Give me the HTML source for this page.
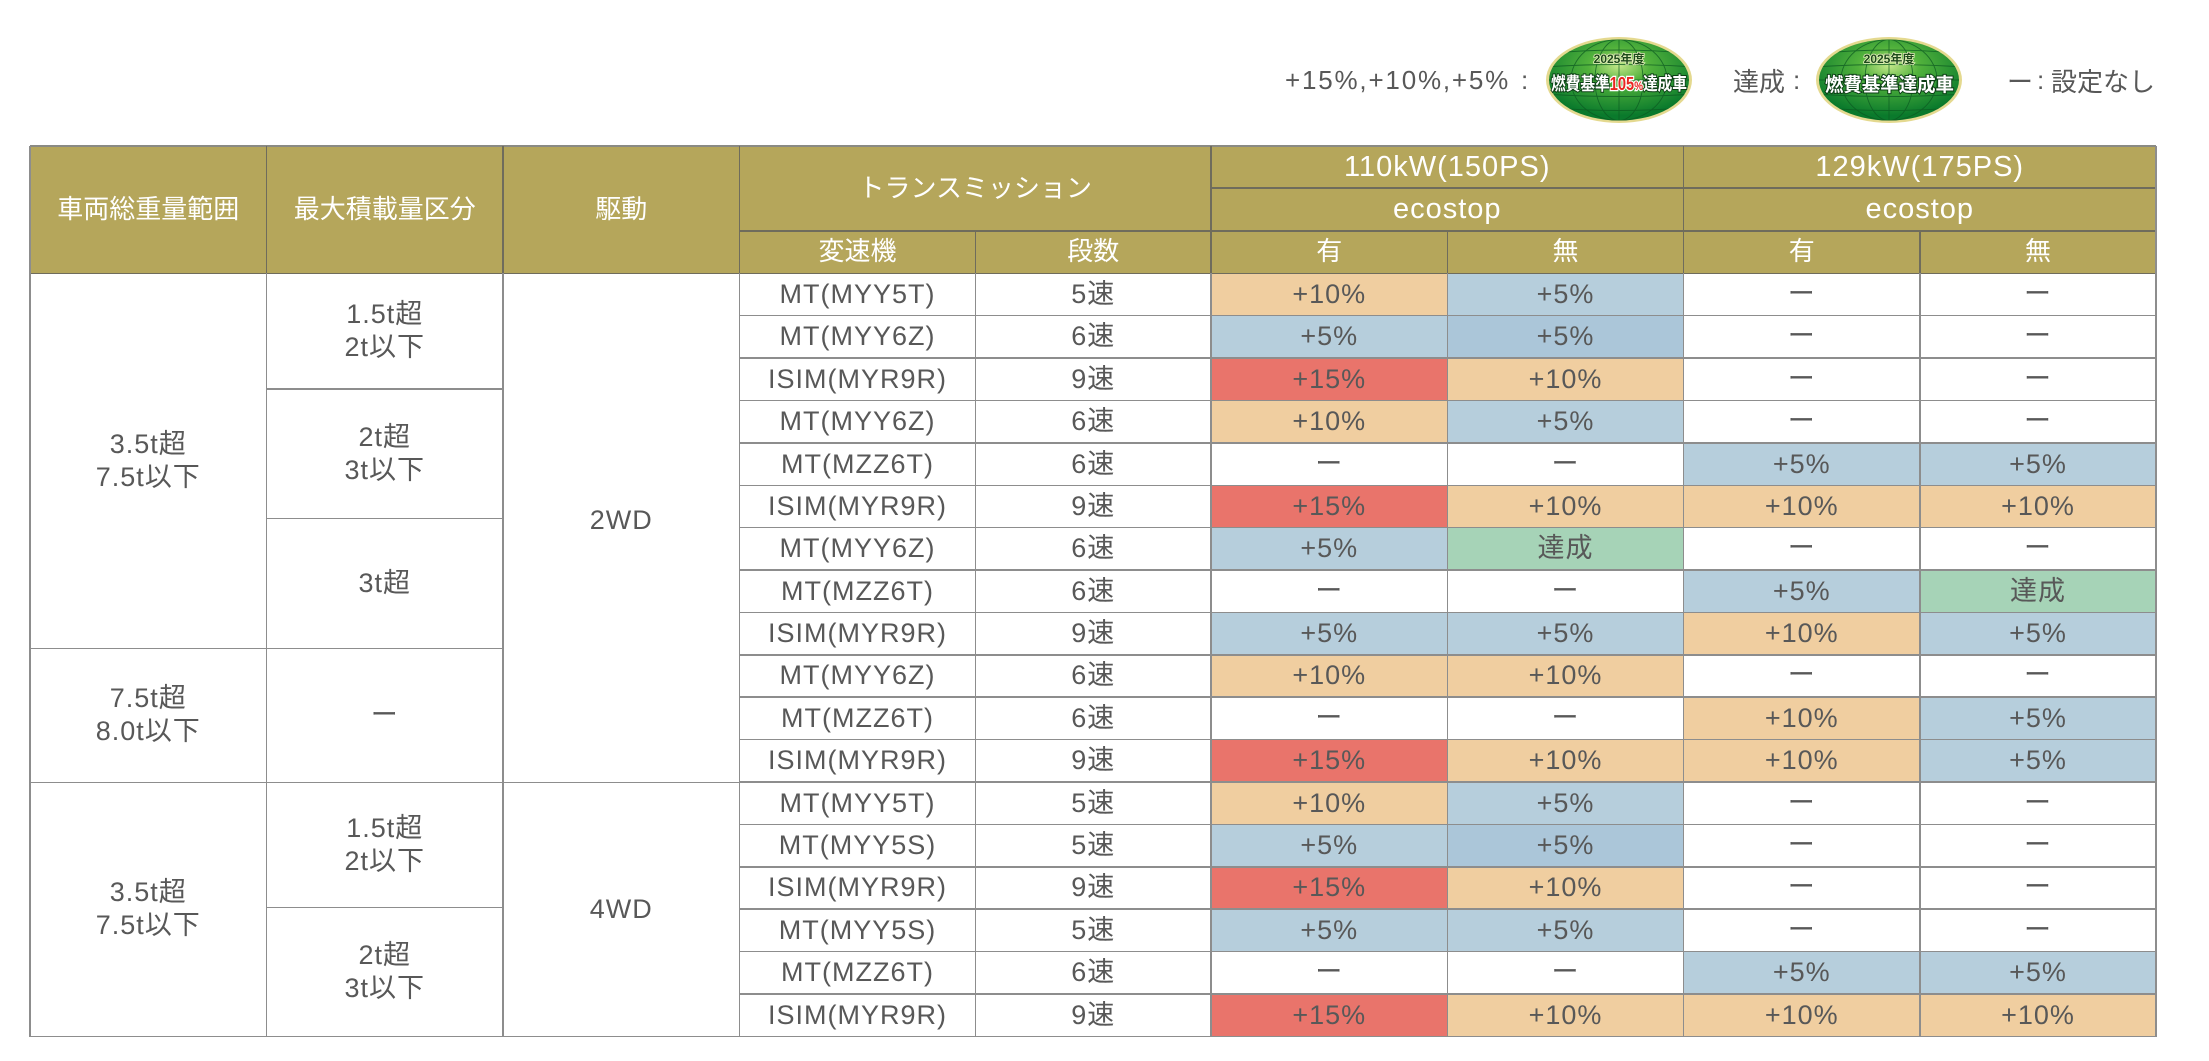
<!DOCTYPE html>
<html><head><meta charset="utf-8">
<style>
html,body{margin:0;padding:0}
body{width:2209px;height:1061px;background:#fff;position:relative;overflow:hidden;font-family:"Liberation Sans","Noto Sans CJK JP",sans-serif}
.c{position:absolute;display:flex;align-items:center;justify-content:center;text-align:center;color:#585858;font-size:27px;letter-spacing:1px;line-height:33px;white-space:nowrap}
.h{color:#fff;font-size:26px;letter-spacing:0}
.hl{position:absolute;height:1.5px;background:#8d8d8d}
.vl{position:absolute;width:1.5px;background:#8d8d8d}
.dk{background:#6f6c5c}
.k4{left:739.5px;width:236px}.k5{left:975.5px;width:235.5px}.k6{left:1211px;width:236.5px}
.k7{left:1447.5px;width:236px}.k8{left:1683.5px;width:236.5px}.k9{left:1920px;width:236px}
.r0{top:273.3px}.r1{top:315.69px}.r2{top:358.08px}.r3{top:400.47px}.r4{top:442.86px}.r5{top:485.25px}
.r6{top:527.64px}.r7{top:570.03px}.r8{top:612.42px}.r9{top:654.81px}.r10{top:697.2px}.r11{top:739.59px}
.r12{top:781.98px}.r13{top:824.37px}.r14{top:866.76px}.r15{top:909.15px}.r16{top:951.54px}.r17{top:993.93px}
.r0,.r1,.r2,.r3,.r4,.r5,.r6,.r7,.r8,.r9,.r10,.r11,.r12,.r13,.r14,.r15,.r16,.r17{height:42.39px}
.o{background:#F0CEA0}.b{background:#B6CEDC}.b2{background:#ABC6D9}.r{background:#E9746B}.g{background:#A6D3B7}
.lg{position:absolute;top:60px;height:40px;display:flex;align-items:center;color:#585858;font-size:26px;white-space:nowrap}
</style></head><body>

<!-- legend -->
<div class="lg" style="left:1285px;letter-spacing:1.8px">+15%,+10%,+5%</div>
<div class="lg" style="left:1521px">:</div>
<svg style="position:absolute;left:1543px;top:34px" width="152" height="92" viewBox="0 0 152 92">
<defs>
<radialGradient id="gA" cx="0.5" cy="0.32" r="0.62"><stop offset="0" stop-color="#c4e88a"/><stop offset="0.35" stop-color="#52b23c"/><stop offset="1" stop-color="#0a7a2c"/></radialGradient>
<clipPath id="cA"><ellipse cx="76" cy="46" rx="70" ry="40.5"/></clipPath>
</defs>
<ellipse cx="76" cy="46" rx="73" ry="43" fill="#e4d98f"/>
<ellipse cx="76" cy="46" rx="70" ry="40.5" fill="url(#gA)"/>
<g clip-path="url(#cA)" fill="none" stroke="#0d5a22" stroke-width="0.9" opacity="0.75">
<line x1="76" y1="0" x2="76" y2="92"/>
<ellipse cx="76" cy="46" rx="24" ry="40.5"/><ellipse cx="76" cy="46" rx="48" ry="40.5"/>
<path d="M0 20 Q76 12 152 20"/><path d="M0 33 Q76 28 152 33"/><line x1="0" y1="46" x2="152" y2="46"/>
<path d="M0 60 Q76 65 152 60"/><path d="M0 73 Q76 80 152 73"/>
</g>
<text x="76" y="29" text-anchor="middle" font-family="Liberation Sans,Noto Sans CJK JP,sans-serif" font-weight="bold" font-size="12" fill="#1d4a1b" stroke="#e8f0c0" stroke-width="1.5" paint-order="stroke">2025年度</text>
<text x="8" y="56" textLength="136" lengthAdjust="spacingAndGlyphs" font-family="Liberation Sans,Noto Sans CJK JP,sans-serif" font-weight="bold" font-size="18" fill="#fff" stroke="#0b3d14" stroke-width="2" paint-order="stroke">燃費基準<tspan fill="#e8261f" stroke="#fff" stroke-width="2.5">105</tspan><tspan fill="#e8261f" stroke="#fff" stroke-width="2.5" font-size="12">%</tspan>達成車</text>
</svg>

<div class="lg" style="left:1733px">達成</div>
<div class="lg" style="left:1793px">:</div>
<svg style="position:absolute;left:1813px;top:34px" width="152" height="92" viewBox="0 0 152 92">
<defs>
<radialGradient id="gB" cx="0.5" cy="0.32" r="0.62"><stop offset="0" stop-color="#c4e88a"/><stop offset="0.35" stop-color="#52b23c"/><stop offset="1" stop-color="#0a7a2c"/></radialGradient>
<clipPath id="cB"><ellipse cx="76" cy="46" rx="70" ry="40.5"/></clipPath>
</defs>
<ellipse cx="76" cy="46" rx="73" ry="43" fill="#e4d98f"/>
<ellipse cx="76" cy="46" rx="70" ry="40.5" fill="url(#gB)"/>
<g clip-path="url(#cB)" fill="none" stroke="#0d5a22" stroke-width="0.9" opacity="0.75">
<line x1="76" y1="0" x2="76" y2="92"/>
<ellipse cx="76" cy="46" rx="24" ry="40.5"/><ellipse cx="76" cy="46" rx="48" ry="40.5"/>
<path d="M0 20 Q76 12 152 20"/><path d="M0 33 Q76 28 152 33"/><line x1="0" y1="46" x2="152" y2="46"/>
<path d="M0 60 Q76 65 152 60"/><path d="M0 73 Q76 80 152 73"/>
</g>
<text x="76" y="29" text-anchor="middle" font-family="Liberation Sans,Noto Sans CJK JP,sans-serif" font-weight="bold" font-size="12" fill="#1d4a1b" stroke="#e8f0c0" stroke-width="1.5" paint-order="stroke">2025年度</text>
<text x="12" y="57" textLength="129" lengthAdjust="spacingAndGlyphs" font-family="Liberation Sans,Noto Sans CJK JP,sans-serif" font-weight="bold" font-size="19" fill="#fff" stroke="#0b3d14" stroke-width="2" paint-order="stroke">燃費基準達成車</text>
</svg>

<div class="lg" style="left:2007px">ー</div>
<div class="lg" style="left:2037px">:</div>
<div class="lg" style="left:2051px">設定なし</div>

<!-- header background -->
<div style="position:absolute;left:30px;top:146px;width:2126px;height:127.3px;background:#B5A65B"></div>

<!-- header text -->
<div class="c h" style="left:30px;width:236.5px;top:146px;height:127.3px">車両総重量範囲</div>
<div class="c h" style="left:266.5px;width:236.5px;top:146px;height:127.3px">最大積載量区分</div>
<div class="c h" style="left:503px;width:236.5px;top:146px;height:127.3px">駆動</div>
<div class="c h" style="left:739.5px;width:471.5px;top:146px;height:84.7px">トランスミッション</div>
<div class="c h" style="left:739.5px;width:236px;top:230.7px;height:42.6px">変速機</div>
<div class="c h" style="left:975.5px;width:235.5px;top:230.7px;height:42.6px">段数</div>
<div class="c h" style="left:1211px;width:472.5px;top:146px;height:42px;font-size:29px;letter-spacing:1px">110kW(150PS)</div>
<div class="c h" style="left:1211px;width:472.5px;top:188px;height:42.7px;font-size:29px;letter-spacing:1px">ecostop</div>
<div class="c h" style="left:1683.5px;width:472.5px;top:146px;height:42px;font-size:29px;letter-spacing:1px">129kW(175PS)</div>
<div class="c h" style="left:1683.5px;width:472.5px;top:188px;height:42.7px;font-size:29px;letter-spacing:1px">ecostop</div>
<div class="c h" style="left:1211px;width:236.5px;top:230.7px;height:42.6px">有</div>
<div class="c h" style="left:1447.5px;width:236px;top:230.7px;height:42.6px">無</div>
<div class="c h" style="left:1683.5px;width:236.5px;top:230.7px;height:42.6px">有</div>
<div class="c h" style="left:1920px;width:236px;top:230.7px;height:42.6px">無</div>

<!-- left blocks -->
<div class="c" style="left:30px;width:236.5px;top:273.3px;height:375px">3.5t超<br>7.5t以下</div>
<div class="c" style="left:266.5px;width:236.5px;top:273.3px;height:115.7px">1.5t超<br>2t以下</div>
<div class="c" style="left:266.5px;width:236.5px;top:389px;height:129.3px">2t超<br>3t以下</div>
<div class="c" style="left:266.5px;width:236.5px;top:518.3px;height:130px">3t超</div>
<div class="c" style="left:30px;width:236.5px;top:648.3px;height:134px">7.5t超<br>8.0t以下</div>
<div class="c" style="left:266.5px;width:236.5px;top:648.3px;height:134px">ー</div>
<div class="c" style="left:503px;width:236.5px;top:273.3px;height:494px">2WD</div>
<div class="c" style="left:30px;width:236.5px;top:782.3px;height:254px">3.5t超<br>7.5t以下</div>
<div class="c" style="left:266.5px;width:236.5px;top:782.3px;height:125px">1.5t超<br>2t以下</div>
<div class="c" style="left:266.5px;width:236.5px;top:907.3px;height:129px">2t超<br>3t以下</div>
<div class="c" style="left:503px;width:236.5px;top:782.3px;height:254px">4WD</div>

<!-- data rows -->
<div class="c k4 r0">MT(MYY5T)</div><div class="c k5 r0">5速</div><div class="c k6 r0 o">+10%</div><div class="c k7 r0 b">+5%</div><div class="c k8 r0">ー</div><div class="c k9 r0">ー</div>
<div class="c k4 r1">MT(MYY6Z)</div><div class="c k5 r1">6速</div><div class="c k6 r1 b">+5%</div><div class="c k7 r1 b2">+5%</div><div class="c k8 r1">ー</div><div class="c k9 r1">ー</div>
<div class="c k4 r2">ISIM(MYR9R)</div><div class="c k5 r2">9速</div><div class="c k6 r2 r">+15%</div><div class="c k7 r2 o">+10%</div><div class="c k8 r2">ー</div><div class="c k9 r2">ー</div>
<div class="c k4 r3">MT(MYY6Z)</div><div class="c k5 r3">6速</div><div class="c k6 r3 o">+10%</div><div class="c k7 r3 b">+5%</div><div class="c k8 r3">ー</div><div class="c k9 r3">ー</div>
<div class="c k4 r4">MT(MZZ6T)</div><div class="c k5 r4">6速</div><div class="c k6 r4">ー</div><div class="c k7 r4">ー</div><div class="c k8 r4 b">+5%</div><div class="c k9 r4 b">+5%</div>
<div class="c k4 r5">ISIM(MYR9R)</div><div class="c k5 r5">9速</div><div class="c k6 r5 r">+15%</div><div class="c k7 r5 o">+10%</div><div class="c k8 r5 o">+10%</div><div class="c k9 r5 o">+10%</div>
<div class="c k4 r6">MT(MYY6Z)</div><div class="c k5 r6">6速</div><div class="c k6 r6 b">+5%</div><div class="c k7 r6 g">達成</div><div class="c k8 r6">ー</div><div class="c k9 r6">ー</div>
<div class="c k4 r7">MT(MZZ6T)</div><div class="c k5 r7">6速</div><div class="c k6 r7">ー</div><div class="c k7 r7">ー</div><div class="c k8 r7 b">+5%</div><div class="c k9 r7 g">達成</div>
<div class="c k4 r8">ISIM(MYR9R)</div><div class="c k5 r8">9速</div><div class="c k6 r8 b">+5%</div><div class="c k7 r8 b">+5%</div><div class="c k8 r8 o">+10%</div><div class="c k9 r8 b">+5%</div>
<div class="c k4 r9">MT(MYY6Z)</div><div class="c k5 r9">6速</div><div class="c k6 r9 o">+10%</div><div class="c k7 r9 o">+10%</div><div class="c k8 r9">ー</div><div class="c k9 r9">ー</div>
<div class="c k4 r10">MT(MZZ6T)</div><div class="c k5 r10">6速</div><div class="c k6 r10">ー</div><div class="c k7 r10">ー</div><div class="c k8 r10 o">+10%</div><div class="c k9 r10 b">+5%</div>
<div class="c k4 r11">ISIM(MYR9R)</div><div class="c k5 r11">9速</div><div class="c k6 r11 r">+15%</div><div class="c k7 r11 o">+10%</div><div class="c k8 r11 o">+10%</div><div class="c k9 r11 b">+5%</div>
<div class="c k4 r12">MT(MYY5T)</div><div class="c k5 r12">5速</div><div class="c k6 r12 o">+10%</div><div class="c k7 r12 b">+5%</div><div class="c k8 r12">ー</div><div class="c k9 r12">ー</div>
<div class="c k4 r13">MT(MYY5S)</div><div class="c k5 r13">5速</div><div class="c k6 r13 b">+5%</div><div class="c k7 r13 b2">+5%</div><div class="c k8 r13">ー</div><div class="c k9 r13">ー</div>
<div class="c k4 r14">ISIM(MYR9R)</div><div class="c k5 r14">9速</div><div class="c k6 r14 r">+15%</div><div class="c k7 r14 o">+10%</div><div class="c k8 r14">ー</div><div class="c k9 r14">ー</div>
<div class="c k4 r15">MT(MYY5S)</div><div class="c k5 r15">5速</div><div class="c k6 r15 b">+5%</div><div class="c k7 r15 b">+5%</div><div class="c k8 r15">ー</div><div class="c k9 r15">ー</div>
<div class="c k4 r16">MT(MZZ6T)</div><div class="c k5 r16">6速</div><div class="c k6 r16">ー</div><div class="c k7 r16">ー</div><div class="c k8 r16 b">+5%</div><div class="c k9 r16 b">+5%</div>
<div class="c k4 r17">ISIM(MYR9R)</div><div class="c k5 r17">9速</div><div class="c k6 r17 r">+15%</div><div class="c k7 r17 o">+10%</div><div class="c k8 r17 o">+10%</div><div class="c k9 r17 o">+10%</div>

<!-- header lines -->
<div class="hl" style="left:30px;width:2126px;top:145.3px;background:#8a8a84"></div>
<div class="hl dk" style="left:1211px;width:945px;top:187.3px"></div>
<div class="hl dk" style="left:739.5px;width:1416.5px;top:230px"></div>
<div class="hl dk" style="left:30px;width:2126px;top:272.6px"></div>
<div class="vl dk" style="left:265.8px;top:146px;height:127.3px"></div>
<div class="vl dk" style="left:502.3px;top:146px;height:127.3px"></div>
<div class="vl dk" style="left:738.8px;top:146px;height:127.3px"></div>
<div class="vl dk" style="left:1210.3px;top:146px;height:127.3px"></div>
<div class="vl dk" style="left:1682.8px;top:146px;height:127.3px"></div>
<div class="vl dk" style="left:974.8px;top:230.7px;height:42.6px"></div>
<div class="vl dk" style="left:1446.8px;top:230.7px;height:42.6px"></div>
<div class="vl dk" style="left:1919.3px;top:230.7px;height:42.6px"></div>

<!-- outer verticals -->
<div class="vl" style="left:29.3px;top:146px;height:891px"></div>
<div class="vl" style="left:2155.3px;top:146px;height:891px"></div>

<!-- data verticals -->
<div class="vl" style="left:265.8px;top:273.3px;height:763px"></div>
<div class="vl" style="left:502.3px;top:273.3px;height:763px"></div>
<div class="vl" style="left:738.8px;top:273.3px;height:763px"></div>
<div class="vl" style="left:974.8px;top:273.3px;height:763px"></div>
<div class="vl" style="left:1210.3px;top:273.3px;height:763px"></div>
<div class="vl" style="left:1446.8px;top:273.3px;height:763px"></div>
<div class="vl" style="left:1682.8px;top:273.3px;height:763px"></div>
<div class="vl" style="left:1919.3px;top:273.3px;height:763px"></div>

<!-- right-section row lines -->
<div class="hl" style="left:739.5px;width:1416.5px;top:314.94px"></div>
<div class="hl" style="left:739.5px;width:1416.5px;top:357.33px"></div>
<div class="hl" style="left:739.5px;width:1416.5px;top:399.72px"></div>
<div class="hl" style="left:739.5px;width:1416.5px;top:442.11px"></div>
<div class="hl" style="left:739.5px;width:1416.5px;top:484.5px"></div>
<div class="hl" style="left:739.5px;width:1416.5px;top:526.89px"></div>
<div class="hl" style="left:739.5px;width:1416.5px;top:569.28px"></div>
<div class="hl" style="left:739.5px;width:1416.5px;top:611.67px"></div>
<div class="hl" style="left:739.5px;width:1416.5px;top:654.06px"></div>
<div class="hl" style="left:739.5px;width:1416.5px;top:696.45px"></div>
<div class="hl" style="left:739.5px;width:1416.5px;top:738.84px"></div>
<div class="hl" style="left:739.5px;width:1416.5px;top:781.23px"></div>
<div class="hl" style="left:739.5px;width:1416.5px;top:823.62px"></div>
<div class="hl" style="left:739.5px;width:1416.5px;top:866.01px"></div>
<div class="hl" style="left:739.5px;width:1416.5px;top:908.4px"></div>
<div class="hl" style="left:739.5px;width:1416.5px;top:950.79px"></div>
<div class="hl" style="left:739.5px;width:1416.5px;top:993.18px"></div>
<div class="hl" style="left:30px;width:2126.8px;top:1035.6px"></div>

<!-- left-section block lines -->
<div class="hl" style="left:266.5px;width:236.5px;top:388.3px"></div>
<div class="hl" style="left:266.5px;width:236.5px;top:517.6px"></div>
<div class="hl" style="left:30px;width:473px;top:647.6px"></div>
<div class="hl" style="left:30px;width:709.5px;top:781.6px"></div>
<div class="hl" style="left:266.5px;width:236.5px;top:906.6px"></div>

</body></html>
